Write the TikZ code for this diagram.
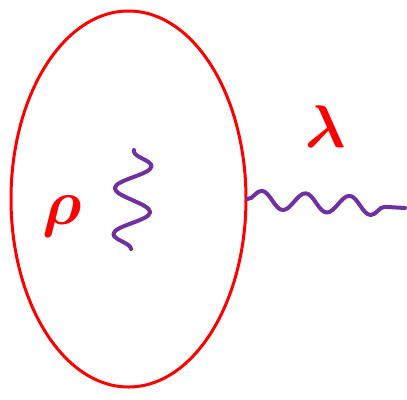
\documentclass[tikz,border=0pt]{standalone}
\usepackage{amsmath,bm}
\usetikzlibrary{shapes.geometric,decorations.pathmorphing}
\definecolor{cellred}{RGB}{255,0,0}
\definecolor{wavepurple}{RGB}{112,48,160}

\begin{document}
\begin{tikzpicture}[x=1pt,y=-1pt,line cap=round,line join=round]
\useasboundingbox (0,0) rectangle (407,399);
\node[draw=cellred,line width=3pt,ellipse,inner sep=0pt,minimum width=235pt,minimum height=376pt] (cell) at (128.5,199) {};
\coordinate (spinbot) at (131,249);
\coordinate (spintop) at (134,150);
\coordinate (photonend) at (405,208);
\draw[wavepurple,line width=4pt,decorate,decoration={snake,segment length=46pt,amplitude=18pt}] (spinbot) -- (spintop);
\draw[wavepurple,line width=4pt,decorate,decoration={snake,segment length=44pt,amplitude=9pt}] (cell.east) -- (photonend);
\node[text=cellred,font=\huge,scale=3.1,inner sep=0pt] (rho) at (62,216) {$\bm{\rho}$};
\node[text=cellred,font=\huge,scale=2.9,inner sep=0pt] (lambda) at (326,127) {$\bm{\lambda}$};
\end{tikzpicture}
\end{document}
